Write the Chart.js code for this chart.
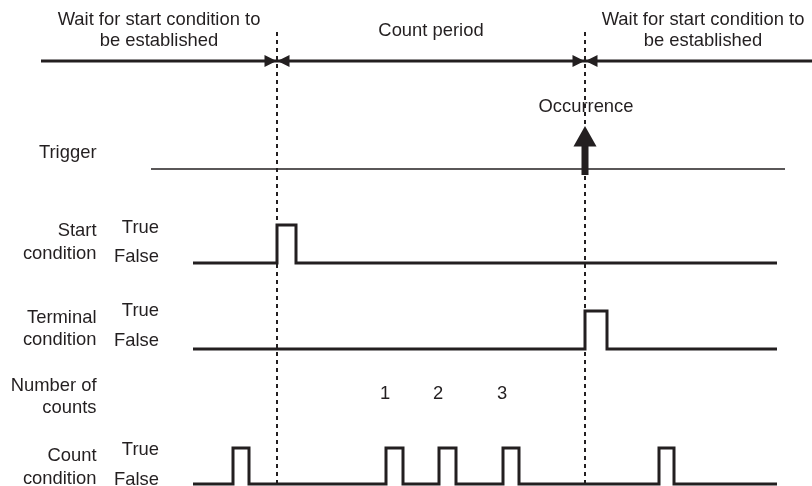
<!DOCTYPE html>
<html>
<head>
<meta charset="utf-8">
<script src="https://cdn.jsdelivr.net/npm/chart.js@4.4.0/dist/chart.umd.min.js"></script>
<style>
  html, body { margin: 0; padding: 0; background: #fff; }
</style>
</head>
<body>
<canvas id="timing" width="812" height="486"></canvas>
<script>
// edge times (x axis units)
const phaseBounds = [41, 277, 585, 812];
const phaseLabels = [
  ["Wait for start condition to", "be established"],
  ["Count period"],
  ["Wait for start condition to", "be established"]
];
const traceSpan = [193, 777];
const triggerSpan = [151, 785];
const occurrenceAt = 585;
const occurrenceLabel = "Occurrence";
const startPulses = [[277, 296]];
const terminalPulses = [[585, 607]];
const countPulses = [[233, 249], [386, 403], [439, 456], [503, 519], [659, 674]];
const signalNames = [["Start", "condition"], ["Terminal", "condition"], ["Count", "condition"]];
const levelLabels = ["True", "False"];
const countTitle = ["Number of", "counts"];
const triggerTitle = "Trigger";

// layout (y axis runs top-down in canvas units)
const INK = '#231f20';
const FONT = '18.4px "Liberation Sans", Arial, sans-serif';
const phaseLabelX = [159, 431, 703];
const phaseLabelY = { two: [19.5, 41], one: [31] };
const lane = { phase: 61, trigger: 169, dashTop: 32, dashBottom: 486, counts: 394 };
const signalLanes = [
  { low: 263, high: 225, nameY: [231, 253.5], levelY: [227.5, 257] },
  { low: 349, high: 311, nameY: [317.5, 340], levelY: [310.5, 340.5] },
  { low: 484, high: 448, nameY: [456, 479], levelY: [450, 479.5] }
];
const nameRight = 96.5;
const levelRight = 159;

function stepPoints(pulses, lo, hi) {
  const pts = [{ x: traceSpan[0], y: lo }];
  pulses.forEach(([rise, fall]) => {
    pts.push({ x: rise, y: hi });
    pts.push({ x: fall, y: lo });
  });
  pts.push({ x: traceSpan[1], y: lo });
  return pts;
}

const lineBase = { pointRadius: 0, borderColor: INK, fill: false, tension: 0, borderCapStyle: 'butt', borderJoinStyle: 'miter' };

const datasets = [
  { ...lineBase, borderWidth: 3, data: [{ x: phaseBounds[0], y: lane.phase }, { x: phaseBounds[phaseBounds.length - 1], y: lane.phase }] },
  { ...lineBase, borderWidth: 1.5, data: [{ x: triggerSpan[0], y: lane.trigger }, { x: triggerSpan[1], y: lane.trigger }] }
];

phaseBounds.slice(1, -1).forEach(b => {
  datasets.push({ ...lineBase, borderWidth: 2, borderDash: [4, 4], data: [{ x: b, y: lane.dashTop }, { x: b, y: lane.dashBottom }] });
});

[startPulses, terminalPulses, countPulses].forEach((pulses, i) => {
  const l = signalLanes[i];
  datasets.push({ ...lineBase, borderWidth: 3, stepped: 'before', data: stepPoints(pulses, l.low, l.high) });
});

const diagramText = {
  id: 'diagramText',
  afterDatasetsDraw(chart) {
    const { ctx, scales: { x, y } } = chart;
    ctx.save();
    ctx.fillStyle = INK;
    ctx.font = FONT;
    ctx.textBaseline = 'middle';

    // phase captions
    ctx.textAlign = 'center';
    phaseLabels.forEach((lines, i) => {
      const ys = lines.length === 2 ? phaseLabelY.two : phaseLabelY.one;
      lines.forEach((t, k) => ctx.fillText(t, x.getPixelForValue(phaseLabelX[i]), y.getPixelForValue(ys[k])));
    });

    // arrowheads meeting at each phase boundary
    const py = y.getPixelForValue(lane.phase);
    phaseBounds.slice(1, -1).forEach(b => {
      const px = x.getPixelForValue(b);
      [-1, 1].forEach(dir => {
        const tip = px + dir * 0.5;
        ctx.beginPath();
        ctx.moveTo(tip, py);
        ctx.lineTo(tip + dir * 12, py - 6);
        ctx.lineTo(tip + dir * 12, py + 6);
        ctx.closePath();
        ctx.fill();
      });
    });

    // occurrence arrow on the trigger line
    const ox = x.getPixelForValue(occurrenceAt);
    ctx.fillRect(ox - 3.5, 146, 7, 175 - 146);
    ctx.beginPath();
    ctx.moveTo(ox, 126);
    ctx.lineTo(ox + 11.5, 146.5);
    ctx.lineTo(ox - 11.5, 146.5);
    ctx.closePath();
    ctx.fill();
    ctx.textAlign = 'center';
    ctx.fillText(occurrenceLabel, ox + 1, 106.5);

    // row titles
    ctx.textAlign = 'right';
    ctx.fillText(triggerTitle, nameRight, y.getPixelForValue(152.5));
    signalNames.forEach((lines, i) => {
      const l = signalLanes[i];
      lines.forEach((t, k) => ctx.fillText(t, nameRight, y.getPixelForValue(l.nameY[k])));
      levelLabels.forEach((t, k) => ctx.fillText(t, levelRight, y.getPixelForValue(l.levelY[k])));
    });
    countTitle.forEach((t, k) => ctx.fillText(t, nameRight, y.getPixelForValue([385.5, 407.5][k])));

    // count numbers at the rising edges inside the count period
    ctx.textAlign = 'center';
    countPulses
      .filter(p => p[0] > phaseBounds[1] && p[0] < phaseBounds[2])
      .forEach((p, i) => ctx.fillText(String(i + 1), x.getPixelForValue(p[0] - 1), y.getPixelForValue(lane.counts)));

    ctx.restore();
  }
};

new Chart(document.getElementById('timing'), {
  type: 'line',
  data: { datasets },
  options: {
    responsive: false,
    animation: false,
    layout: { padding: 0 },
    plugins: { legend: { display: false }, tooltip: { enabled: false } },
    scales: {
      x: { type: 'linear', min: 0, max: 812, display: false },
      y: { type: 'linear', min: 0, max: 486, reverse: true, display: false }
    }
  },
  plugins: [diagramText]
});
</script>
</body>
</html>
